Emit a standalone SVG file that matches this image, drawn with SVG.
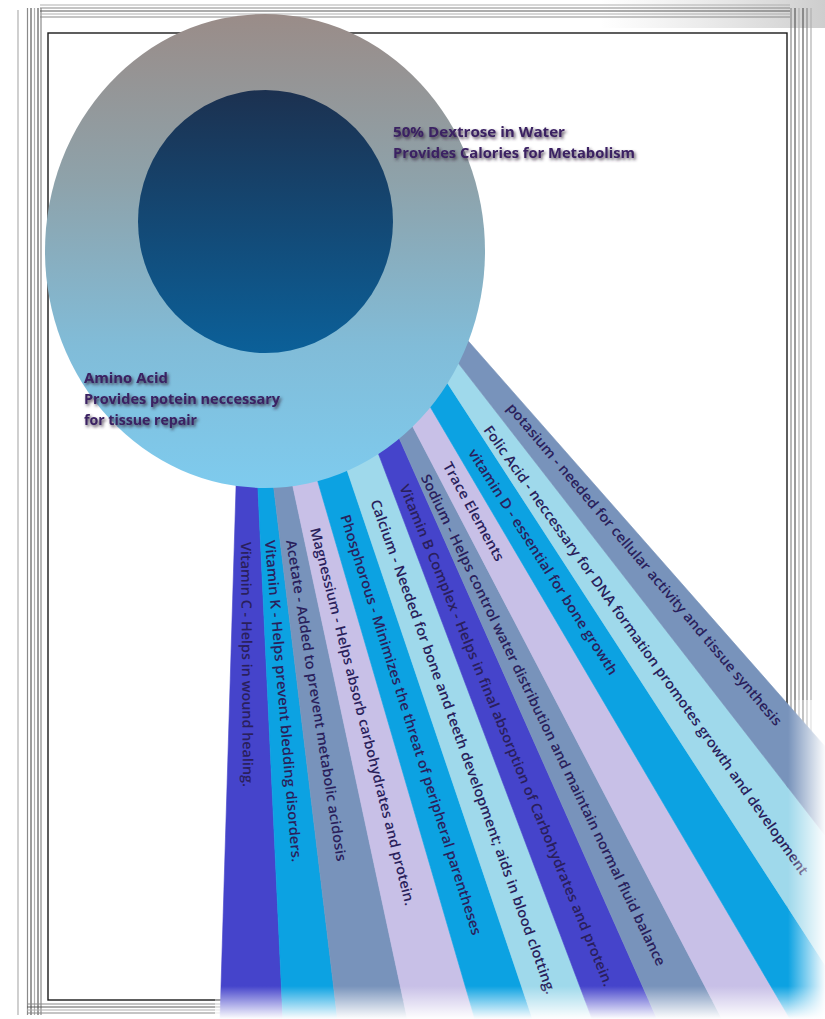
<svg xmlns="http://www.w3.org/2000/svg" width="825" height="1019" viewBox="0 0 825 1019">
<defs>
<linearGradient id="outerG" x1="0" y1="0" x2="0" y2="1">
<stop offset="0" stop-color="#9a8c88"/>
<stop offset="0.35" stop-color="#8ea2aa"/>
<stop offset="0.7" stop-color="#81bcd8"/>
<stop offset="1" stop-color="#7ecbee"/>
</linearGradient>
<linearGradient id="innerG" x1="0" y1="0" x2="0" y2="1">
<stop offset="0" stop-color="#1c3150"/>
<stop offset="1" stop-color="#0b6099"/>
</linearGradient>
<linearGradient id="fadeB" x1="0" y1="0" x2="0" y2="1">
<stop offset="0" stop-color="#fff" stop-opacity="0"/>
<stop offset="1" stop-color="#fff" stop-opacity="1"/>
</linearGradient>
<linearGradient id="fadeR" x1="0" y1="0" x2="1" y2="0">
<stop offset="0" stop-color="#fff" stop-opacity="0"/>
<stop offset="1" stop-color="#fff" stop-opacity="0.97"/>
</linearGradient>
<linearGradient id="topShade" x1="0" y1="0" x2="1" y2="0">
<stop offset="0" stop-color="#c8c8c8" stop-opacity="0"/>
<stop offset="1" stop-color="#b8b8b8" stop-opacity="0.7"/>
</linearGradient>
<filter id="shadow" x="-10%" y="-40%" width="120%" height="180%">
<feDropShadow dx="1.5" dy="2" stdDeviation="1.5" flood-color="#33283a" flood-opacity="0.85"/>
</filter>
<style>
.frameBlack{fill:none;stroke:#1a1a1a;stroke-width:1.4}
.g1{stroke:#8a8a8a;stroke-width:1.2;fill:none}
.g2{stroke:#5a5a5a;stroke-width:1.2;fill:none}
.g3{stroke:#b0b0b0;stroke-width:1.2;fill:none}
.indigo{fill:#4544cb;stroke:#4544cb;stroke-width:0.6}
.blue{fill:#0ca2e2;stroke:#0ca2e2;stroke-width:0.6}
.grayblue{fill:#7893bb;stroke:#7893bb;stroke-width:0.6}
.lav{fill:#c8c0e7;stroke:#c8c0e7;stroke-width:0.6}
.cyan{fill:#9fd9eb;stroke:#9fd9eb;stroke-width:0.6}
.bt{font-family:"Open Sans","Liberation Sans",sans-serif;font-size:14px;font-weight:600;fill:#2a1f5c}
.ct{font-family:"Open Sans","Liberation Sans",sans-serif;font-size:14px;font-weight:700;fill:#3a2062;filter:url(#shadow)}
</style>
</defs>
<rect width="825" height="1019" fill="#ffffff"/>
<rect x="600" y="0" width="225" height="28" fill="url(#topShade)"/>
<g id="frame">
<line class="g3" x1="18" y1="10" x2="18" y2="1015"/>
<line class="g1" x1="27.5" y1="8" x2="27.5" y2="1015"/>
<line class="g2" x1="31" y1="8" x2="31" y2="1015"/>
<line class="g3" x1="34.5" y1="8" x2="34.5" y2="1015"/>
<line class="g2" x1="38" y1="8" x2="38" y2="1015"/>
<line class="g1" x1="41" y1="8" x2="41" y2="1015"/>
<line class="g3" x1="40" y1="5" x2="790" y2="5"/>
<line class="g1" x1="40" y1="8" x2="790" y2="8"/>
<line class="g2" x1="40" y1="11" x2="790" y2="11"/>
<line class="g3" x1="40" y1="14" x2="790" y2="14"/>
<line class="g1" x1="40" y1="17" x2="790" y2="17"/>
<line class="g1" x1="791" y1="8" x2="791" y2="740"/>
<line class="g2" x1="795" y1="8" x2="795" y2="740"/>
<line class="g3" x1="799" y1="8" x2="799" y2="740"/>
<line class="g2" x1="803" y1="8" x2="803" y2="740"/>
<line class="g1" x1="807" y1="8" x2="807" y2="740"/>
<line class="g3" x1="811" y1="8" x2="811" y2="740"/>
<line class="g1" x1="27" y1="1004" x2="230" y2="1004"/>
<line class="g2" x1="27" y1="1007" x2="230" y2="1007"/>
<line class="g3" x1="27" y1="1010" x2="230" y2="1010"/>
<line class="g1" x1="27" y1="1013" x2="230" y2="1013"/>
<rect class="frameBlack" x="48" y="33" width="739" height="967"/>
</g>
<g id="bands">
<polygon class="indigo" points="236.9,458 256.6,460 284.8,1060 218.8,1060"/>
<polygon class="blue" points="256.6,460 270.4,460 342.4,1060 284.8,1060"/>
<polygon class="grayblue" points="270.4,460 286.6,457 416.2,1060 342.4,1060"/>
<polygon class="lav" points="286.6,457 309.2,452 486.8,1060 416.2,1060"/>
<polygon class="blue" points="309.2,452 337.9,443 546.4,1060 486.8,1060"/>
<polygon class="cyan" points="337.9,443 368.7,428 607.6,1060 546.4,1060"/>
<polygon class="indigo" points="368.7,428 386.7,410 675.3,1060 607.6,1060"/>
<polygon class="grayblue" points="386.7,410 397.3,397 743.4,1060 675.3,1060"/>
<polygon class="lav" points="397.3,397 414.4,380 814.2,1060 743.4,1060"/>
<polygon class="blue" points="414.4,380 430.5,357 886.8,1060 814.2,1060"/>
<polygon class="cyan" points="430.5,357 438.7,338 999.7,1060 886.8,1060"/>
<polygon class="grayblue" points="438.7,338 443.6,313 1101,1060 999.7,1060"/>
</g>
<g id="circle">
<ellipse cx="265" cy="251" rx="220" ry="237" fill="url(#outerG)"/>
<ellipse cx="265.5" cy="221.5" rx="127.5" ry="131.5" fill="url(#innerG)"/>
</g>
<g id="dextrose">
<text class="ct" x="393" y="137" textLength="172" lengthAdjust="spacingAndGlyphs">50% Dextrose in Water</text>
<text class="ct" x="393" y="158" textLength="242" lengthAdjust="spacingAndGlyphs">Provides Calories for Metabolism</text>
</g>
<g id="amino">
<text class="ct" x="84" y="383" textLength="84" lengthAdjust="spacingAndGlyphs">Amino Acid</text>
<text class="ct" x="84" y="404" textLength="196" lengthAdjust="spacingAndGlyphs">Provides potein neccessary</text>
<text class="ct" x="84" y="425" textLength="113" lengthAdjust="spacingAndGlyphs">for tissue repair</text>
</g>
<g id="labels">
<g id="vitc"><text class="bt" transform="translate(246,542) rotate(89.5)" dy="0.36em" textLength="245" lengthAdjust="spacingAndGlyphs">Vitamin C - Helps in wound healing.</text></g>
<g id="vitk"><text class="bt" transform="translate(270,540) rotate(85.2)" dy="0.36em" textLength="323" lengthAdjust="spacingAndGlyphs">Vitamin K - Helps prevent bledding disorders.</text></g>
<g id="acetate"><text class="bt" transform="translate(291,540) rotate(81)" dy="0.36em" textLength="325" lengthAdjust="spacingAndGlyphs">Acetate - Added to prevent metabolic acidosis</text></g>
<g id="magnessium"><text class="bt" transform="translate(315,528) rotate(75.8)" dy="0.36em" textLength="389" lengthAdjust="spacingAndGlyphs">Magnessium - Helps absorb carbohydrates and protein.</text></g>
<g id="phosphorous"><text class="bt" transform="translate(345,515) rotate(72.5)" dy="0.36em" textLength="440" lengthAdjust="spacingAndGlyphs">Phosphorous - Minimizes the threat of peripheral parentheses</text></g>
<g id="calcium"><text class="bt" transform="translate(375,500) rotate(70.3)" dy="0.36em" textLength="524" lengthAdjust="spacingAndGlyphs">Calcium - Needed for bone and teeth development; aids in blood clotting.</text></g>
<g id="vitb"><text class="bt" transform="translate(404,485) rotate(67.7)" dy="0.36em" textLength="541" lengthAdjust="spacingAndGlyphs">Vitamin B Complex - Helps in final absorption of Carbohydrates and protein.</text></g>
<g id="sodium"><text class="bt" transform="translate(425,475) rotate(64.2)" dy="0.36em" textLength="544" lengthAdjust="spacingAndGlyphs">Sodium - Helps control water distribution and maintain normal fluid balance</text></g>
<g id="trace"><text class="bt" transform="translate(447,463) rotate(61)" dy="0.36em" textLength="111" lengthAdjust="spacingAndGlyphs">Trace Elements</text></g>
<g id="vitd"><text class="bt" transform="translate(472,450) rotate(57.5)" dy="0.36em" textLength="265" lengthAdjust="spacingAndGlyphs">vitamin D - essential for bone growth</text></g>
<g id="folic"><text class="bt" transform="translate(487,427) rotate(54.5)" dy="0.36em" textLength="548" lengthAdjust="spacingAndGlyphs">Folic Acid - neccessary for DNA formation promotes growth and development</text></g>
<g id="potasium"><text class="bt" transform="translate(510,405) rotate(49.8)" dy="0.36em" textLength="417" lengthAdjust="spacingAndGlyphs">potasium - needed for cellular activity and tissue synthesis</text></g>
</g>
<g id="fades">
<rect x="215" y="986" width="610" height="33" fill="url(#fadeB)"/>
<rect x="788" y="700" width="37" height="319" fill="url(#fadeR)"/>
</g>
</svg>
